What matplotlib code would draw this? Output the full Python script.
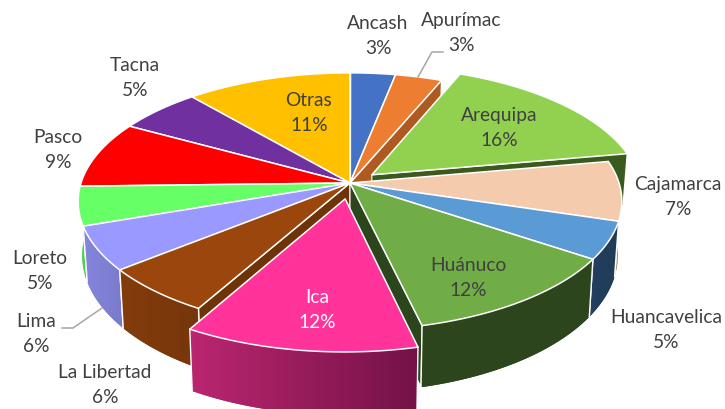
import numpy as np
import matplotlib
matplotlib.use("Agg")
import matplotlib.pyplot as plt
from matplotlib.patches import Polygon
from matplotlib.colors import LinearSegmentedColormap

# data (shares from slice boundaries, labels as printed)
regions = ["Ancash", "Apurímac", "Arequipa", "Cajamarca", "Huancavelica", "Huánuco", "Ica",
           "La Libertad", "Lima", "Loreto", "Pasco", "Tacna", "Otras"]
shares = [3.1, 3.2, 15.9, 7.5, 4.7, 11.9, 11.9, 6.0, 5.5, 4.9, 8.4, 5.7, 11.3]
share_labels = ["3%", "3%", "16%", "7%", "5%", "12%", "12%", "6%", "6%", "5%", "9%", "5%", "11%"]

# style
top_colors = ["#4472C4", "#ED7D31", "#92D050", "#F4CBAC", "#5B9BD5", "#70AD47", "#FF3399",
              "#9A460D", "#9999FF", "#66FF66", "#FF0000", "#7030A0", "#FFC000"]
side_left = ["#2F5597", "#AE5A21", "#3A5A1E", "#B58F70", "#244061", "#2D451C", "#BA2670",
             "#843C0C", "#8585DD", "#4FD04F", "#B00000", "#4E2270", "#B88A00"]
side_right = ["#2F5597", "#AE5A21", "#3A5A1E", "#B58F70", "#1F3B54", "#2D451C", "#741248",
              "#75360B", "#7A7ACC", "#4FD04F", "#B00000", "#4E2270", "#B88A00"]
wall_colors = ["#2F5597", "#AE5A21", "#3A5A1E", "#B58F70", "#244061", "#2D451C", "#BA2670",
               "#6E3407", "#8585DD", "#4FD04F", "#B00000", "#4E2270", "#B88A00"]
explode = [0, 0, 0.105, 0, 0, 0, 0.125, 0, 0, 0, 0, 0, 0]
label_xy = [(378, 36), (461, 33), (499, 128), (678, 197), (666, 330), (468, 278), (317, 310),
            (105, 385), (36, 334), (40, 271), (58, 150), (135, 78), (309, 113)]
leader_lines = [([418, 432, 443], [77, 52, 52]), ([102, 73, 62], [308, 328, 328])]

# 3D pie projection, pixel units
CX, CY = 350, 183
RX, RY = 269, 126
K = 0.144
DEPTH = 53
SHRINK = 0.985


def project(u, v, lower=False):
    s = 1 / (1 + K * v)
    x = CX + RX * u * s
    y = CY - RY * v * s
    if lower:
        x = CX + (x - CX) * SHRINK
        y = y + DEPTH * s
    return x, y


fig = plt.figure(figsize=(7.25, 4.09), dpi=100)
ax = fig.add_axes([0, 0, 1, 1])
ax.axis("off")

edges = np.cumsum([0] + shares) / sum(shares) * 2 * np.pi
mids = (edges[:-1] + edges[1:]) / 2
order = np.argsort(-np.cos(mids))

z = 1
for i in order:
    a0, a1 = edges[i], edges[i + 1]
    du, dv = explode[i] * np.sin(mids[i]), explode[i] * np.cos(mids[i])
    t = np.linspace(a0, a1, 60)
    u = np.sin(t) + du
    v = np.cos(t) + dv

    # radial wall that faces the viewer
    wall_a = a1 if np.sin(a1) > 0 else (a0 if np.sin(a0) < 0 else None)
    if wall_a is not None:
        eu, ev = np.sin(wall_a) + du, np.cos(wall_a) + dv
        p = [project(du, dv), project(eu, ev), project(eu, ev, True), project(du, dv, True)]
        ax.add_patch(Polygon(p, closed=True, fc=wall_colors[i], ec="white", lw=0.8, zorder=z))
        z += 1

    # outer rim with left to right shading
    xt, yt = project(u, v)
    xb, yb = project(u, v, True)
    rim_pts = list(zip(xt, yt)) + list(zip(xb[::-1], yb[::-1]))
    rim = Polygon(rim_pts, closed=True, fc=side_left[i], ec="none", zorder=z)
    ax.add_patch(rim)
    cmap = LinearSegmentedColormap.from_list("rim", [side_left[i], side_right[i]])
    x0, x1 = min(xt.min(), xb.min()), max(xt.max(), xb.max())
    y0, y1 = min(yt.min(), yb.min()), max(yt.max(), yb.max())
    im = ax.imshow(np.linspace(0, 1, 64).reshape(1, -1), extent=[x0, x1, y1, y0], cmap=cmap,
                   aspect="auto", interpolation="bilinear", zorder=z)
    im.set_clip_path(rim)
    ax.plot([xt[0], xb[0]], [yt[0], yb[0]], color="white", lw=1, zorder=z)
    ax.plot([xt[-1], xb[-1]], [yt[-1], yb[-1]], color="white", lw=1, zorder=z)
    z += 1

    # top face
    top_pts = [project(du, dv)] + list(zip(xt, yt))
    ax.add_patch(Polygon(top_pts, closed=True, fc=top_colors[i], ec="white", lw=1.1,
                         joinstyle="round", zorder=z))
    z += 1

for xs, ys in leader_lines:
    ax.plot(xs, ys, color="#A6A6A6", lw=1.1, zorder=z)

for name, pct, (x, y) in zip(regions, share_labels, label_xy):
    color = "white" if name == "Ica" else "#404040"
    ax.text(x, y, f"{name}\n{pct}", ha="center", va="center", fontsize=13.8, family="Lato",
            color=color, linespacing=1.62, zorder=z + 1)

ax.set_xlim(0, 725)
ax.set_ylim(409, 0)
fig.savefig("out.png", dpi=100)
